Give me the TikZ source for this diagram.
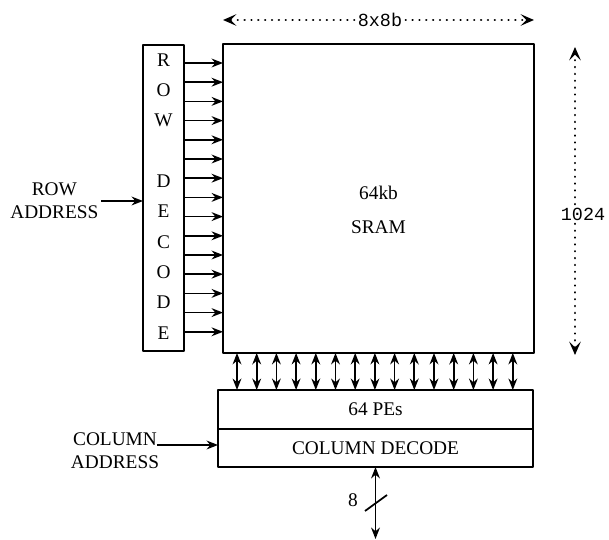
\documentclass[tikz,border=0pt]{standalone}
\usepackage{fontspec}
\setmainfont{Liberation Serif}
\setmonofont{Liberation Mono}
\usetikzlibrary{arrows.meta}
\tikzset{
	blk/.style={draw, line width=1pt, outer sep=0pt, inner sep=0pt},
	dimln/.style={line width=1.3pt, dash pattern=on 0.1pt off 3.8pt, line cap=round, -{Stealth[length=7.5pt, width=6.5pt, inset=3.2pt]}},
	dimlbl/.style={font=\fontsize{10.5}{12}\ttfamily, inner sep=1.5pt}
}
\begin{document}
\begin{tikzpicture}[x=0.02cm, y=-0.02cm, font=\fontsize{11}{13}\selectfont, line join=round, line width=1pt, >={Stealth[length=6.5pt, width=5pt]}]
	\useasboundingbox (0,0) rectangle (609,540);
	\node[blk, minimum width=6.22cm, minimum height=6.18cm] (sram) at (378.5,198.5) {};
	\node (kb) at (378.5,193) {64kb};
	\node (sramlbl) at (378.5,227) {SRAM};
	\node[blk, minimum width=0.82cm, minimum height=6.12cm] (rowdec) at (163.5,198) {};
	\foreach \l [count=\i from 0] in {R,O,W,{},D,E,C,O,D,E}{\node (rl\i) at (163.5,{60+30.3*\i}) {\l};}
	\foreach \i [evaluate=\i as \yy using 63+19.2*\i] in {0,...,14}{\draw[->] (rowdec.east |- 0,\yy) -- (sram.west |- 0,\yy);}
	\node[blk, minimum width=6.3cm, minimum height=0.78cm] (pes) at (375.5,409.5) {64 PEs};
	\node[blk, minimum width=6.3cm, minimum height=0.76cm, anchor=north] (coldec) at (pes.south) {COLUMN DECODE};
	\foreach \i [evaluate=\i as \xx using 237+19.7*\i] in {0,...,14}{\draw[<->] (sram.south -| \xx,0) -- (pes.north -| \xx,0);}
	\node[align=center, anchor=east, inner sep=1pt] (rowad) at (101,201) {ROW\\ADDRESS};
	\draw[->] (rowad.east) -- (rowad.east -| rowdec.west);
	\node[align=center] (colad) at (115,451) {COLUMN\\ADDRESS};
	\coordinate (colin) at (157,445);
	\draw[->] (colin) -- (colin -| coldec.west);
	\coordinate (dout) at (375.5,539);
	\draw[<->] (coldec.south) -- (dout);
	\draw (365,511)--(387,495);
	\node (nbits) at (353,500) {8};
	\node[dimlbl] (w8) at (380,20) {8x8b};
	\draw[dimln] (w8.west) -- (sram.north west |- w8.west);
	\draw[dimln] (w8.east) -- (sram.north east |- w8.east);
	\coordinate (vt) at (575,47);
	\coordinate (vb) at (575,355);
	\node[dimlbl] (h1024) at (583,214) {1024};
	\draw[dimln] (h1024.north -| vt) -- (vt);
	\draw[dimln] (h1024.south -| vb) -- (vb);
\end{tikzpicture}
\end{document}
